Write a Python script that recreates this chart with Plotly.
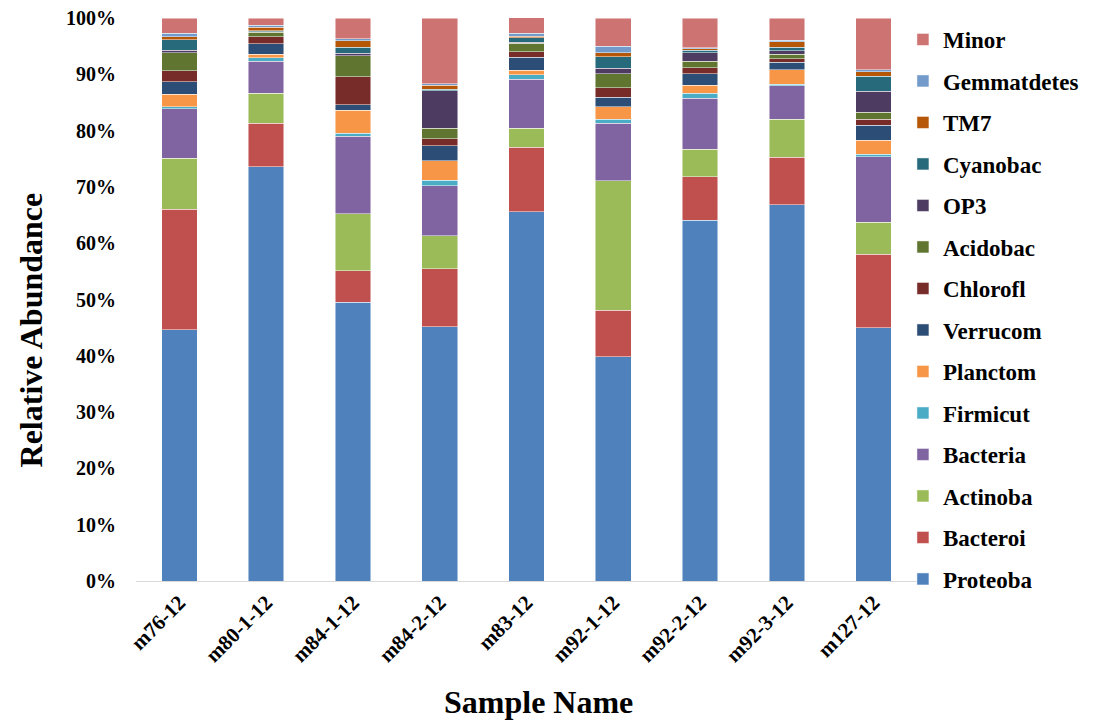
import plotly.graph_objects as go

samples = ["m76-12", "m80-1-12", "m84-1-12", "m84-2-12", "m83-12",
           "m92-1-12", "m92-2-12", "m92-3-12", "m127-12"]

Proteoba    = [44.6, 73.6, 49.5, 45.2, 65.6, 39.8, 64.1, 66.8, 45.0]
Bacteroi    = [21.4, 7.7, 5.6, 10.3, 11.4, 8.3, 7.7, 8.5, 13.0]
Actinoba    = [9.1, 5.3, 10.1, 5.8, 3.45, 23.0, 4.9, 6.75, 5.7]
Bacteria    = [8.8, 5.7, 13.8, 8.9, 8.65, 10.25, 9.05, 5.9, 11.7]
Firmicut    = [0.3, 0.6, 0.5, 0.95, 0.8, 0.7, 0.85, 0.3, 0.4]
Planctom    = [2.3, 0.65, 4.1, 3.5, 0.85, 2.2, 1.5, 2.6, 2.5]
Verrucom    = [2.2, 1.9, 1.0, 2.7, 2.25, 1.7, 2.0, 1.3, 2.65]
Chlorofl    = [1.9, 1.2, 5.0, 1.2, 1.05, 1.65, 1.05, 0.6, 1.05]
Acidobac    = [3.2, 0.8, 3.7, 1.9, 1.5, 2.5, 1.2, 0.8, 1.25]
OP3         = [0.5, 0.1, 0.4, 6.6, 0.1, 1.0, 1.5, 0.6, 3.7]
Cyanobac    = [1.8, 0.2, 1.1, 0.3, 0.8, 2.0, 0.4, 0.65, 2.7]
TM7         = [0.6, 0.65, 1.2, 0.7, 0.35, 0.7, 0.25, 1.0, 0.8]
Gemmatdetes = [0.6, 0.3, 0.35, 0.3, 0.5, 1.2, 0.25, 0.25, 0.35]
Minor       = [2.7, 1.3, 3.65, 11.65, 2.8, 5.0, 5.25, 3.95, 9.2]

series = [
    ("Proteoba", Proteoba, "#4F81BD"),
    ("Bacteroi", Bacteroi, "#C0504D"),
    ("Actinoba", Actinoba, "#9BBB59"),
    ("Bacteria", Bacteria, "#8064A2"),
    ("Firmicut", Firmicut, "#4BACC6"),
    ("Planctom", Planctom, "#F79646"),
    ("Verrucom", Verrucom, "#2C4D75"),
    ("Chlorofl", Chlorofl, "#772C2A"),
    ("Acidobac", Acidobac, "#5F7530"),
    ("OP3", OP3, "#4D3B62"),
    ("Cyanobac", Cyanobac, "#276A7C"),
    ("TM7", TM7, "#B65708"),
    ("Gemmatdetes", Gemmatdetes, "#729ACA"),
    ("Minor", Minor, "#CD7371"),
]

y_ticks = [0, 10, 20, 30, 40, 50, 60, 70, 80, 90, 100]
y_labels = [f"{v}%" for v in y_ticks]

FONT = "Liberation Serif"

fig = go.Figure()
n = len(series)
for i, (name, vals, color) in enumerate(series):
    fig.add_trace(go.Bar(
        x=samples, y=vals, name=name, legendgroup=name,
        legendrank=n - i,
        marker=dict(color=color, line=dict(color="rgba(255,255,255,0.6)", width=0.8)),
    ))

fig.update_layout(
    barmode="stack",
    bargap=0.59,
    width=1086, height=713,
    margin=dict(l=128, r=173, t=10, b=140),
    plot_bgcolor="white", paper_bgcolor="white",
    font=dict(family=FONT, color="black"),
    showlegend=True,
    legend=dict(
        x=0.982, xanchor="left", y=1.0, yanchor="top",
        traceorder="grouped",
        font=dict(family=FONT, size=23, color="black", weight="bold"),
        tracegroupgap=8.6,
        itemwidth=30,
        maxheight=700,
        bgcolor="rgba(0,0,0,0)",
    ),
    xaxis=dict(
        tickangle=-45,
        tickfont=dict(family=FONT, size=21, color="black", weight="bold"),
        showline=True, linecolor="#D9D9D9", linewidth=1,
        ticks="", showgrid=False, automargin=False,
        ticklabeloverflow="allow",
    ),
    yaxis=dict(
        range=[0, 100],
        tickvals=y_ticks, ticktext=y_labels,
        tickfont=dict(family=FONT, size=20, color="black", weight="bold"),
        showline=False, showgrid=False, zeroline=False, ticks="",
        ticklabelstandoff=19, automargin=False,
        ticklabeloverflow="allow",
    ),
    annotations=[
        dict(text="Relative Abundance", xref="paper", yref="paper",
             x=-0.135, y=0.446, xanchor="center", yanchor="middle",
             textangle=-90, showarrow=False,
             font=dict(family=FONT, size=32, color="black", weight="bold")),
        dict(text="Sample Name", xref="paper", yref="paper",
             x=0.516, y=-0.215, xanchor="center", yanchor="middle",
             showarrow=False,
             font=dict(family=FONT, size=32, color="black", weight="bold")),
    ],
)

fig.write_html("out.html")
